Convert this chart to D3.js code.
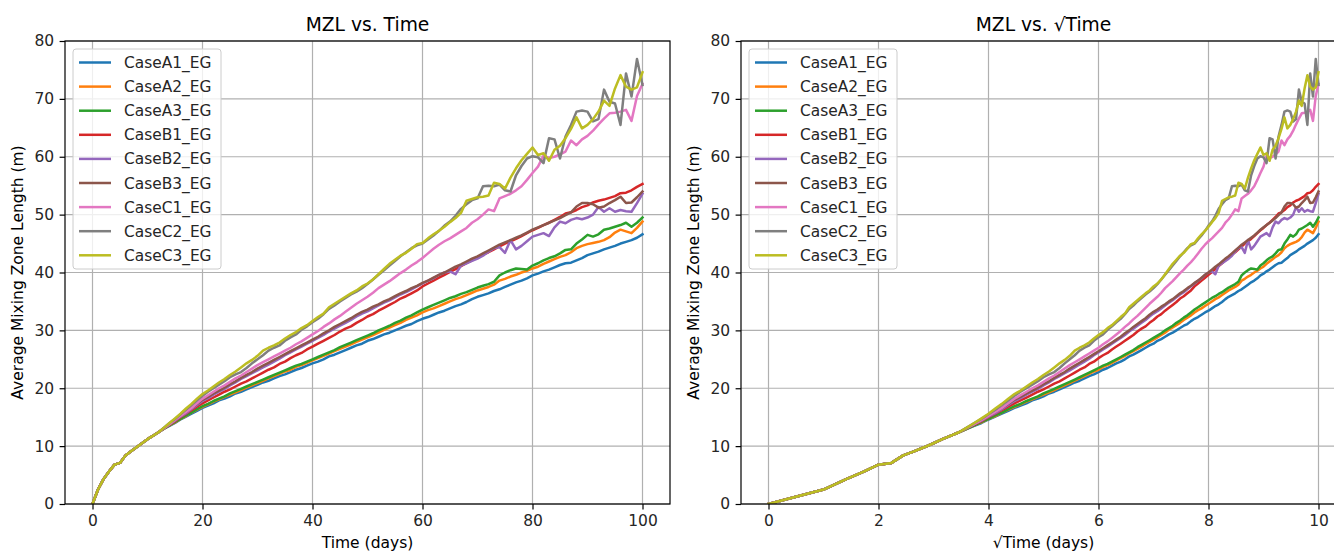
<!DOCTYPE html>
<html>
<head>
<meta charset="utf-8">
<script src="https://cdn.jsdelivr.net/npm/d3@7"></script>
<style>
  html, body { margin: 0; padding: 0; background: #ffffff; }
  svg { display: block; font-family: "DejaVu Sans", sans-serif; }
</style>
</head>
<body>
<svg id="chart" width="1334" height="552"></svg>
<script>
// Simulation output days
const days = [0,1,2,3,4,5,6,7,8,9,10,11,12,13,14,15,16,17,18,19,20,21,22,23,24,25,26,27,28,29,30,
  31,32,33,34,35,36,37,38,39,40,41,42,43,44,45,46,47,48,49,50,51,52,53,54,55,56,57,58,59,60,
  61,62,63,64,65,66,67,68,69,70,71,72,73,74,75,76,77,78,79,80,81,82,83,84,85,86,87,88,89,90,
  91,92,93,94,95,96,97,98,99,100];

// Average mixing zone length (m) for each case, one value per day
const caseA1 = [0.0,2.5,4.3,5.6,6.8,7.1,8.4,9.1,9.8,10.5,11.2,11.8,12.4,
  13.0,13.5,14.0,14.6,15.1,15.6,16.1,16.6,17.0,17.4,17.9,18.2,18.6,19.1,19.4,19.8,20.2,20.6,
  21.0,21.3,21.7,22.1,22.4,22.8,23.2,23.5,23.9,24.3,24.6,25.0,25.5,25.8,26.2,26.6,27.0,27.4,27.7,28.2,
  28.5,28.9,29.3,29.6,30.0,30.4,30.8,31.1,31.6,32.0,32.3,32.7,33.1,33.4,33.8,34.2,34.5,34.9,35.4,35.8,
  36.1,36.4,36.8,37.1,37.5,37.9,38.3,38.6,39.0,39.5,39.8,40.2,40.5,40.9,41.3,41.6,41.7,42.1,42.5,43.0,
  43.3,43.6,44.0,44.3,44.6,45.0,45.3,45.6,46.0,46.6];
const caseA2 = [0.0,2.5,4.3,5.6,6.8,7.1,8.4,9.1,9.8,10.5,11.2,11.8,12.4,
  13.0,13.6,14.1,14.7,15.2,15.8,16.3,16.8,17.2,17.7,18.1,18.5,18.9,19.3,19.7,20.1,20.5,20.9,
  21.3,21.7,22.1,22.5,22.9,23.2,23.7,24.0,24.4,24.8,25.2,25.6,26.0,26.4,26.8,27.2,27.6,28.0,28.4,28.8,
  29.2,29.6,30.1,30.5,30.9,31.3,31.8,32.2,32.6,33.1,33.5,33.8,34.2,34.6,35.0,35.4,35.7,36.1,36.5,36.9,
  37.2,37.5,37.9,38.6,38.9,39.3,39.6,40.0,40.3,40.7,41.0,41.5,41.9,42.3,42.7,43.0,43.5,44.2,44.6,44.9,
  45.1,45.3,45.6,46.1,46.9,47.4,47.1,46.8,47.7,48.8];
const caseA3 = [0.0,2.5,4.3,5.6,6.8,7.1,8.4,9.1,9.8,10.5,11.2,11.8,12.4,
  13.0,13.6,14.2,14.7,15.3,15.8,16.4,16.9,17.3,17.8,18.2,18.6,19.1,19.5,19.9,20.3,20.7,21.1,
  21.5,21.9,22.3,22.7,23.1,23.5,23.9,24.2,24.6,25.0,25.4,25.8,26.2,26.6,27.1,27.5,27.9,28.3,28.7,29.1,
  29.5,30.0,30.4,30.8,31.3,31.7,32.2,32.6,33.1,33.6,34.0,34.4,34.8,35.2,35.6,35.9,36.3,36.6,37.0,37.4,
  37.7,38.0,38.4,39.5,40.0,40.4,40.7,40.6,40.5,41.2,41.6,42.1,42.5,42.8,43.3,43.9,44.0,45.0,45.7,46.5,
  46.2,46.6,47.4,47.6,47.9,48.2,48.6,47.9,48.6,49.5];
const caseB1 = [0.0,2.5,4.3,5.6,6.8,7.1,8.4,9.1,9.8,10.5,11.2,11.8,12.4,
  13.1,13.7,14.3,15.0,15.6,16.2,16.8,17.4,17.9,18.4,18.9,19.4,19.8,20.3,20.8,21.2,21.7,22.2,
  22.7,23.2,23.6,24.2,24.6,25.2,25.7,26.1,26.7,27.2,27.7,28.2,28.7,29.2,29.8,30.3,30.7,31.3,31.8,32.4,
  32.8,33.4,33.9,34.4,34.9,35.5,35.9,36.4,36.9,37.6,38.1,38.6,39.1,39.6,40.1,40.6,41.1,41.6,42.1,42.6,
  43.1,43.5,44.0,44.5,45.0,45.4,45.8,46.3,46.8,47.3,47.7,48.2,48.6,49.1,49.6,50.2,50.4,50.8,51.3,51.6,
  52.1,52.4,52.6,52.9,53.2,53.7,53.8,54.2,54.8,55.3];
const caseB2 = [0.0,2.5,4.3,5.6,6.8,7.1,8.4,9.1,9.8,10.5,11.2,11.8,12.4,
  13.1,13.8,14.4,15.1,15.7,16.4,17.1,17.8,18.3,18.9,19.4,19.9,20.5,21.0,21.6,22.1,22.6,23.1,
  23.6,24.1,24.6,25.1,25.7,26.2,26.7,27.2,27.7,28.2,28.7,29.2,29.8,30.3,30.8,31.3,31.8,32.4,32.9,33.3,
  33.8,34.3,34.8,35.2,35.7,36.2,36.6,37.1,37.6,38.1,38.6,39.0,39.6,40.0,40.2,39.7,41.2,41.6,42.0,42.4,
  42.9,43.6,44.2,44.4,43.4,45.6,44.0,44.6,45.4,46.2,46.5,46.8,46.3,47.8,48.8,48.5,49.1,49.4,49.2,49.5,
  50.0,51.3,50.5,51.1,50.5,50.8,50.6,50.5,52.0,53.6];
const caseB3 = [0.0,2.5,4.3,5.6,6.8,7.1,8.4,9.1,9.8,10.5,11.2,11.8,12.4,
  13.1,13.8,14.5,15.2,15.9,16.6,17.3,18.0,18.5,19.1,19.6,20.1,20.7,21.2,21.8,22.3,22.8,23.4,
  23.9,24.4,24.9,25.4,25.9,26.4,26.9,27.4,27.9,28.4,28.9,29.5,30.0,30.6,31.1,31.6,32.1,32.7,33.2,33.6,
  34.1,34.5,35.0,35.4,35.9,36.4,36.8,37.3,37.7,38.2,38.6,39.1,39.6,40.0,40.5,41.0,41.4,41.9,42.4,42.8,
  43.3,43.8,44.3,44.8,45.2,45.6,46.0,46.4,46.9,47.4,47.8,48.2,48.6,49.0,49.4,49.9,50.4,51.4,52.0,52.0,
  51.8,51.2,51.4,52.0,52.5,53.1,52.0,52.1,53.0,54.0];
const caseC1 = [0.0,2.5,4.3,5.6,6.8,7.1,8.4,9.1,9.8,10.5,11.2,11.8,12.4,
  13.1,13.8,14.5,15.2,15.9,16.6,17.4,18.2,18.8,19.4,20.0,20.5,21.1,21.7,22.2,22.8,23.4,24.0,
  24.5,25.0,25.5,26.0,26.5,27.0,27.6,28.1,28.7,29.3,29.9,30.6,31.2,31.9,32.5,33.2,33.9,34.6,35.2,35.8,
  36.5,37.3,37.9,38.5,39.2,39.9,40.5,41.2,41.8,42.5,43.3,44.1,44.8,45.4,45.9,46.5,47.1,47.7,48.6,49.2,
  50.0,50.9,50.6,52.8,53.2,53.6,54.2,54.9,56.0,57.2,58.3,60.2,59.8,60.0,60.4,60.9,62.8,62.0,63.0,63.6,
  64.5,65.6,66.6,67.5,67.6,67.8,68.1,66.2,70.5,72.6];
const caseC2 = [0.0,2.5,4.3,5.6,6.8,7.1,8.4,9.1,9.8,10.5,11.2,11.8,12.4,
  13.2,14.0,14.7,15.5,16.3,17.1,17.9,18.7,19.4,20.0,20.6,21.2,21.9,22.4,22.8,23.5,24.3,25.0,
  25.7,26.5,27.0,27.4,28.2,28.8,29.3,30.1,30.7,31.4,32.0,32.8,33.7,34.3,35.0,35.6,36.2,36.7,37.3,38.0,
  38.8,39.6,40.4,41.2,42.0,42.8,43.5,44.2,44.7,45.0,45.7,46.4,47.2,48.1,48.8,49.8,51.0,51.8,52.5,52.8,
  54.9,55.0,54.9,55.2,54.2,54.0,56.8,58.4,59.7,60.1,59.9,58.9,63.2,63.0,59.7,63.5,65.5,67.8,68.0,67.8,
  66.1,66.5,71.6,69.5,69.2,65.5,74.4,70.4,76.9,72.4];
const caseC3 = [0.0,2.5,4.3,5.6,6.8,7.1,8.4,9.1,9.8,10.5,11.2,11.8,12.4,
  13.2,14.0,14.8,15.6,16.5,17.3,18.2,19.0,19.6,20.3,21.0,21.6,22.3,22.9,23.6,24.3,24.9,25.6,
  26.5,27.0,27.4,27.9,28.6,29.2,29.7,30.4,30.9,31.6,32.3,32.9,34.0,34.6,35.2,35.8,36.4,36.9,37.6,38.1,
  38.8,39.7,40.6,41.5,42.2,42.9,43.4,44.1,44.9,45.1,45.9,46.6,47.2,47.9,48.7,49.4,50.3,52.4,52.7,53.0,
  53.1,53.3,55.5,55.3,54.5,56.4,58.0,59.4,60.5,61.6,60.3,60.6,59.3,61.2,61.9,63.2,64.8,66.8,64.9,65.5,
  66.5,67.8,69.7,68.8,71.8,74.1,72.1,71.6,72.0,74.6];

const caseNames = ["CaseA1_EG","CaseA2_EG","CaseA3_EG","CaseB1_EG","CaseB2_EG","CaseB3_EG","CaseC1_EG","CaseC2_EG","CaseC3_EG"];
const caseValues = [caseA1, caseA2, caseA3, caseB1, caseB2, caseB3, caseC1, caseC2, caseC3];
const caseColors = ["#1f77b4","#ff7f0e","#2ca02c","#d62728","#9467bd","#8c564b","#e377c2","#7f7f7f","#bcbd22"];

const timeTicks = [0, 20, 40, 60, 80, 100];
const sqrtTimeTicks = [0, 2, 4, 6, 8, 10];
const mzlTicks = [0, 10, 20, 30, 40, 50, 60, 70, 80];

const svg = d3.select("#chart");
svg.append("rect").attr("width", 1334).attr("height", 552).attr("fill", "#ffffff");

const plotTop = 41, plotBottom = 504;
const tickFont = 15.5, labelFont = 15.5, titleFont = 18.7, legendFont = 15.4;
const tickLen = 5.4, tickPad = 5.4;

const panels = [
  { left: 65, right: 670, domain: [-5, 105], ticks: timeTicks, toX: d => d,
    title: "MZL vs. Time", xlabel: "Time (days)", id: "p1" },
  { left: 741, right: 1346, domain: [-0.5, 10.5], ticks: sqrtTimeTicks, toX: d => Math.sqrt(d),
    title: "MZL vs. \u221ATime", xlabel: "\u221ATime (days)", id: "p2" }
];

panels.forEach(p => {
  const x = d3.scaleLinear().domain(p.domain).range([p.left, p.right]);
  const y = d3.scaleLinear().domain([0, 80]).range([plotBottom, plotTop]);
  const g = svg.append("g");

  g.append("clipPath").attr("id", "clip-" + p.id)
    .append("rect").attr("x", p.left).attr("y", plotTop)
    .attr("width", p.right - p.left).attr("height", plotBottom - plotTop);

  // grid
  const grid = g.append("g").attr("stroke", "#b0b0b0").attr("stroke-width", 1.2);
  p.ticks.forEach(t => {
    grid.append("line").attr("x1", x(t)).attr("x2", x(t)).attr("y1", plotTop).attr("y2", plotBottom);
  });
  mzlTicks.forEach(t => {
    grid.append("line").attr("x1", p.left).attr("x2", p.right).attr("y1", y(t)).attr("y2", y(t));
  });

  // curves
  const line = d3.line()
    .x((v, i) => x(p.toX(days[i])))
    .y(v => y(v));
  const curves = g.append("g").attr("clip-path", "url(#clip-" + p.id + ")");
  caseValues.forEach((vals, k) => {
    curves.append("path").attr("d", line(vals))
      .attr("fill", "none").attr("stroke", caseColors[k])
      .attr("stroke-width", 2.5).attr("stroke-linejoin", "round").attr("stroke-linecap", "square");
  });

  // spines
  g.append("rect").attr("x", p.left).attr("y", plotTop)
    .attr("width", p.right - p.left).attr("height", plotBottom - plotTop)
    .attr("fill", "none").attr("stroke", "#000000").attr("stroke-width", 1.2);

  // axes
  const xAxis = g.append("g").attr("transform", `translate(0,${plotBottom})`)
    .call(d3.axisBottom(x).tickValues(p.ticks).tickSize(tickLen).tickPadding(tickPad).tickFormat(d3.format("d")));
  const yAxis = g.append("g").attr("transform", `translate(${p.left},0)`)
    .call(d3.axisLeft(y).tickValues(mzlTicks).tickSize(tickLen).tickPadding(tickPad).tickFormat(d3.format("d")));
  [xAxis, yAxis].forEach(a => {
    a.select(".domain").remove();
    a.selectAll(".tick line").attr("stroke", "#000000").attr("stroke-width", 1.2);
    a.selectAll(".tick text").attr("fill", "#262626").attr("font-size", tickFont)
      .attr("font-family", "DejaVu Sans, sans-serif");
  });

  // title and axis labels
  g.append("text").attr("x", (p.left + p.right) / 2).attr("y", 31)
    .attr("text-anchor", "middle").attr("font-size", titleFont).attr("fill", "#000000")
    .text(p.title);
  g.append("text").attr("x", (p.left + p.right) / 2).attr("y", 547.5)
    .attr("text-anchor", "middle").attr("font-size", labelFont).attr("fill", "#000000")
    .text(p.xlabel);
  g.append("text")
    .attr("transform", `translate(${p.left - 42},${(plotTop + plotBottom) / 2}) rotate(-90)`)
    .attr("text-anchor", "middle").attr("font-size", labelFont).attr("fill", "#000000")
    .text("Average Mixing Zone Length (m)");

  // legend
  const lg = g.append("g");
  lg.append("rect").attr("x", p.left + 8).attr("y", plotTop + 8)
    .attr("width", 148).attr("height", 220).attr("rx", 3)
    .attr("fill", "#ffffff").attr("fill-opacity", 0.8)
    .attr("stroke", "#cccccc").attr("stroke-width", 1);
  caseNames.forEach((name, k) => {
    const ly = plotTop + 21.5 + k * 24.1;
    lg.append("line").attr("x1", p.left + 14).attr("x2", p.left + 46)
      .attr("y1", ly).attr("y2", ly)
      .attr("stroke", caseColors[k]).attr("stroke-width", 2.5);
    lg.append("text").attr("x", p.left + 59).attr("y", ly + 5.5)
      .attr("font-size", legendFont).attr("fill", "#262626").text(name);
  });
});
</script>
</body>
</html>
